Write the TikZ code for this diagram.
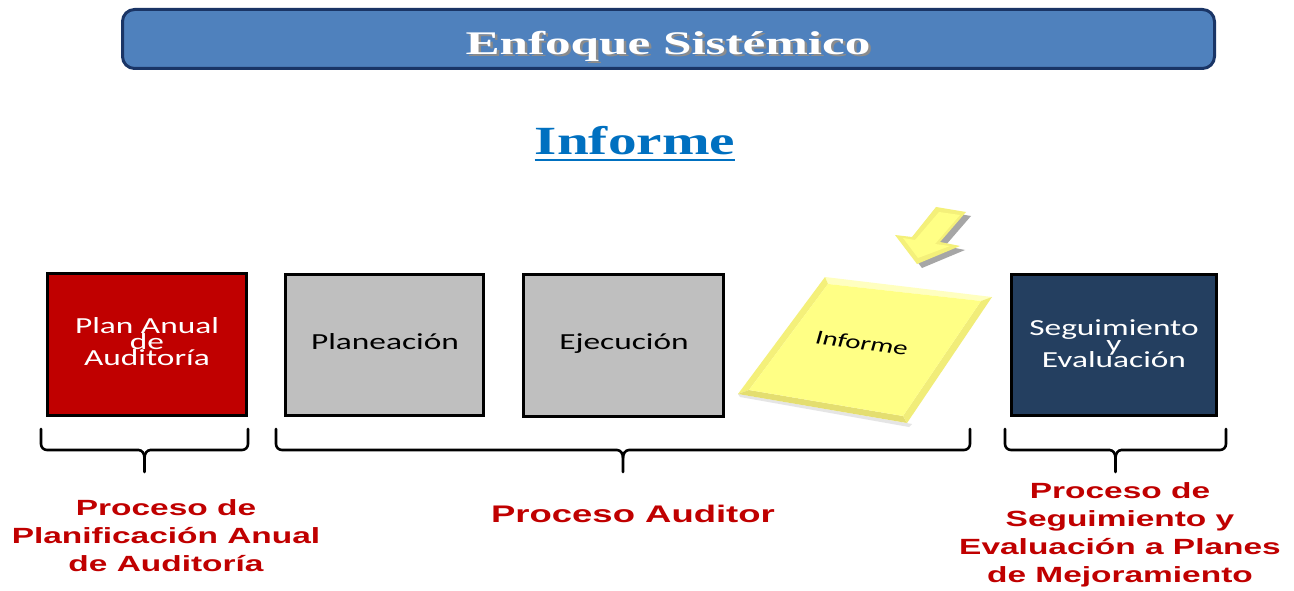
\documentclass[tikz,border=0pt]{standalone}
\usepackage{fontspec}
\usepackage{graphicx}
\newfontfamily\boxfont{Carlito}
\newfontfamily\labfont{Liberation Sans}
\newfontfamily\serfont{Liberation Serif}
\definecolor{bannerfill}{HTML}{4F81BD}
\definecolor{bannerline}{HTML}{1A3566}
\definecolor{redbox}{HTML}{C00000}
\definecolor{graybox}{HTML}{BFBFBF}
\definecolor{navybox}{HTML}{243F60}
\definecolor{headblue}{HTML}{0070C0}
\definecolor{labred}{HTML}{C00000}
\definecolor{yelmain}{HTML}{FFFF85}
\definecolor{yellight}{HTML}{FFFFC0}
\definecolor{yelmid}{HTML}{F4F07A}
\definecolor{yeldark}{HTML}{E4DE70}
\tikzset{
  stagebox/.style={draw=black, line width=3pt, inner sep=0pt},
  boxtxt/.style={inner sep=0pt, align=center, xscale=1.45,
    font={\boxfont\fontsize{23}{16}\selectfont\lineskiplimit=-40pt\relax}},
  labtxt/.style={inner sep=0pt, align=center, xscale=1.52, text=labred,
    font={\labfont\bfseries\fontsize{22}{28}\selectfont\lineskiplimit=-40pt\relax}},
  titletxt/.style={inner sep=0pt, anchor=base, xscale=1.55,
    font={\serfont\bfseries\fontsize{33}{38}\selectfont}},
  bracketline/.style={line width=2.6pt, line cap=round, line join=round}
}
\newcommand\drbrace[3]{%
  \coordinate (#1-l) at (#2,429);
  \coordinate (#1-r) at (#3,429);
  \coordinate (#1-c) at ({(#2+#3)/2},472);
  \draw[bracketline] (#1-l) -- ++(0,15) to[out=-90,in=180] ++(6,6)
     -- ([xshift=-6pt,yshift=22pt]#1-c) to[out=0,in=90] ++(6,8) -- (#1-c);
  \draw[bracketline] (#1-r) -- ++(0,15) to[out=-90,in=0] ++(-6,6)
     -- ([xshift=6pt,yshift=22pt]#1-c) to[out=180,in=90] ++(-6,8);
}
\begin{document}
\begin{tikzpicture}[x=1pt,y=-1pt]
\useasboundingbox[fill=white] (0,0) rectangle (1294,591);

% banner
\node[draw=bannerline, fill=bannerfill, line width=3pt, rounded corners=12pt,
      minimum width=1092pt, minimum height=59pt, inner sep=0pt] (banner) at (668.5,39) {};
\node[titletxt, text=black!45] (titleshadow) at (670.5,57) {Enfoque Sistémico};
\node[titletxt, text=white] (title) at (668,55) {Enfoque Sistémico};

% heading
\node[inner sep=0pt, anchor=base, xscale=1.43, text=headblue,
      font={\serfont\bfseries\fontsize{40}{44}\selectfont}] (heading) at (635,155) {Informe};
\draw[headblue, line width=2.5pt] ([yshift=-5pt]heading.base west) -- ([yshift=-5pt]heading.base east);

% boxes
\node[stagebox, fill=redbox, minimum width=199pt, minimum height=142pt] (plan) at (147,344.5) {};
\node[stagebox, fill=graybox, minimum width=198pt, minimum height=141pt] (planea) at (384.5,344.7) {};
\node[stagebox, fill=graybox, minimum width=200pt, minimum height=142pt] (ejec) at (623.5,345.5) {};
\node[stagebox, fill=navybox, minimum width=205pt, minimum height=141pt] (segui) at (1114,345) {};

\node[boxtxt, text=white] (plantxt) at (147,342) {Plan Anual\\de\\Auditoría};
\node[boxtxt, text=black] (planeatxt) at (385,342) {Planeación};
\node[boxtxt, text=black] (ejectxt) at (624,344) {Ejecución};
\node[boxtxt, text=white] (seguitxt) at (1114,344) {Seguimiento\\y\\Evaluación};

% yellow informe sheet
\coordinate (yA) at (825,277);
\coordinate (yB) at (992,297);
\coordinate (yC) at (907,423);
\coordinate (yD) at (738,394);
\coordinate (iA) at (828,284);
\coordinate (iB) at (981,301);
\coordinate (iC) at (903,416);
\coordinate (iD) at (749,390);
\fill[black!10] (740,397) -- (909,427) -- (912,424) -- (yD) -- cycle;
\fill[yellight] (yA) -- (yB) -- (iB) -- (iA) -- cycle;
\fill[yelmid] (yA) -- (iA) -- (iD) -- (yD) -- cycle;
\fill[yeldark] (yD) -- (iD) -- (iC) -- (yC) -- cycle;
\fill[yelmid!85!yeldark] (yB) -- (yC) -- (iC) -- (iB) -- cycle;
\fill[yelmain] (iA) -- (iB) -- (iC) -- (iD) -- cycle;
\node[inner sep=0pt, xscale=1.45, rotate=-11, text=black,
      font={\boxfont\fontsize{20}{24}\selectfont}] (sheettxt) at (862,343) {Informe};

% yellow arrow
\coordinate (aS1) at (936,207);
\coordinate (aS2) at (966,212);
\coordinate (aI2) at (940,242);
\coordinate (aW2) at (960,246);
\coordinate (aT) at (917,264);
\coordinate (aW1) at (895,235);
\coordinate (aI1) at (912,237);
\fill[black!35] ([shift={(5pt,-4pt)}]aS1) -- ([shift={(5pt,-4pt)}]aS2) -- ([shift={(5pt,-4pt)}]aI2)
   -- ([shift={(5pt,-4pt)}]aW2) -- ([shift={(5pt,-4pt)}]aT) -- ([shift={(5pt,-4pt)}]aW1)
   -- ([shift={(5pt,-4pt)}]aI1) -- cycle;
\fill[yelmid] (aS1) -- (aS2) -- (aI2) -- (aW2) -- (aT) -- (aW1) -- (aI1) -- cycle;
\fill[yelmain] (939,212) -- (960,215) -- (935,244) -- (950,246) -- (918,258) -- (903,238) -- (915,240) -- cycle;

% brackets
\drbrace{bl}{41}{248}
\drbrace{bm}{276}{970}
\drbrace{br}{1005}{1226}

% labels
\node[labtxt] (labplan) at (166,536) {Proceso de\\Planificación Anual\\de Auditoría};
\node[labtxt, font={\labfont\bfseries\fontsize{24}{28}\selectfont}] (labaud) at (633,514) {Proceso Auditor};
\node[labtxt] (labsegui) at (1120,535) {Proceso de\\Seguimiento y\\Evaluación a Planes\\de Mejoramiento};
\end{tikzpicture}
\end{document}
